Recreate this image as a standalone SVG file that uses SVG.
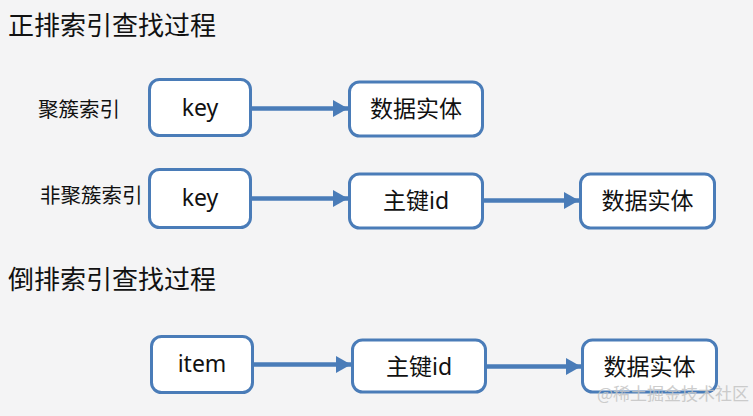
<svg xmlns="http://www.w3.org/2000/svg" width="753" height="416" viewBox="0 0 753 416">
<defs>
<style>
.bg{fill:#f4f4f5}
.box{fill:#ffffff;stroke:#4a7cb8;stroke-width:3}
.t{font-family:"Noto Sans","Noto Sans CJK SC",sans-serif;fill:#111111;text-anchor:middle;font-size:23px}
.lbl{font-family:"Noto Sans CJK SC","Noto Sans",sans-serif;fill:#111111;font-size:20.5px}
.title{font-family:"Noto Sans CJK SC","Noto Sans",sans-serif;fill:#111111;font-size:26px}
.wm{font-family:"Noto Sans CJK SC",sans-serif;fill:#c4c4c4;font-size:17px;opacity:0.85}
.conn{stroke:#4a7cb8;stroke-width:4.5;fill:none;marker-end:url(#ah)}
</style>
<marker id="ah" markerUnits="userSpaceOnUse" markerWidth="16" markerHeight="18" refX="15" refY="8.5" orient="auto">
<path d="M0,0 L15,8.5 L0,17 Z" fill="#4a7cb8"/>
</marker>
</defs>
<rect class="bg" x="0" y="0" width="753" height="416"/>

<text class="title" x="8" y="35">正排索引查找过程</text>
<text class="title" x="8" y="289">倒排索引查找过程</text>
<text class="lbl" x="38" y="117">聚簇索引</text>
<text class="lbl" x="40" y="203">非聚簇索引</text>

<g id="connectors">
<line class="conn" x1="251" y1="108.5" x2="348" y2="108.5"/>
<line class="conn" x1="251" y1="198.5" x2="348" y2="198.5"/>
<line class="conn" x1="483" y1="200.5" x2="579" y2="200.5"/>
<line class="conn" x1="253" y1="364.5" x2="351" y2="364.5"/>
<line class="conn" x1="485" y1="366.5" x2="581" y2="366.5"/>
</g>

<g id="n1_key">
<rect class="box" x="149.5" y="79.5" width="101" height="56" rx="10"/>
<text class="t" x="200" y="116">key</text>
</g>
<g id="n1_entity">
<rect class="box" x="349.5" y="82" width="133" height="54" rx="10"/>
<text class="t" x="416" y="117">数据实体</text>
</g>

<g id="n2_key">
<rect class="box" x="149.5" y="169.5" width="101" height="58" rx="10"/>
<text class="t" x="200" y="206">key</text>
</g>
<g id="n2_pk">
<rect class="box" x="349.5" y="174" width="133" height="54" rx="10"/>
<text class="t" x="416" y="209">主键id</text>
</g>
<g id="n2_entity">
<rect class="box" x="580.5" y="174" width="134" height="54" rx="10"/>
<text class="t" x="647.5" y="209">数据实体</text>
</g>

<g id="n3_item">
<rect class="box" x="151.5" y="336.5" width="101" height="56" rx="10"/>
<text class="t" x="202" y="372">item</text>
</g>
<g id="n3_pk">
<rect class="box" x="352.5" y="340" width="133" height="52" rx="10"/>
<text class="t" x="419" y="375">主键id</text>
</g>
<g id="n3_entity">
<rect class="box" x="582.5" y="340" width="134" height="52" rx="10"/>
<text class="t" x="649.5" y="375">数据实体</text>
</g>

<text class="wm" x="597" y="400">@稀土掘金技术社区</text>
</svg>
